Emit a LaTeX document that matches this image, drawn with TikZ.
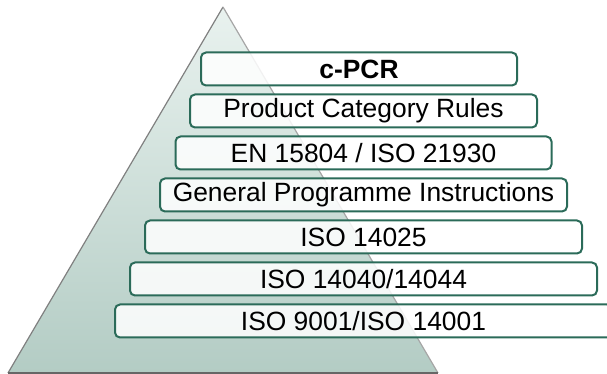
\documentclass[tikz,border=0pt]{standalone}
\usepackage{fontspec}
\setmainfont{Liberation Sans}
\usetikzlibrary{positioning}
\definecolor{boxgreen}{HTML}{2B6B59}
\definecolor{pyrtop}{HTML}{E9F2EF}
\definecolor{pyrbottom}{HTML}{B3CCC4}
\begin{document}
\begin{tikzpicture}[x=0.5pt,y=-0.5pt,
		layer/.style={draw=boxgreen,line width=1pt,rounded corners=2.5pt,
			fill=white,fill opacity=0.85,text opacity=1,
			minimum height=16.5pt,inner sep=0pt,
			font=\fontsize{13.2}{15}\selectfont},
		node distance=3.5pt,]
\useasboundingbox (0,0) rectangle (607,374);

% pyramid behind the layers
\coordinate (apex) at (223,7);
\coordinate (baseL) at (8,373);
\coordinate (baseR) at (438,373);
\shade[top color=pyrtop,bottom color=pyrbottom] (apex) -- (baseR) -- (baseL) -- cycle;
\draw[gray,line width=0.6pt] (baseL) -- (apex);
\draw[gray!70,line width=0.6pt] (apex) -- (baseR);
\draw[gray!80!black,line width=1pt] (baseL) -- (baseR);

% layers, top to bottom
\node[layer,minimum width=158pt] (cpcr) at (359,69) {\bfseries c-PCR};
\node[layer,minimum width=173.5pt,below=of cpcr,xshift=2.25pt] (pcr) {Product Category Rules};
\node[layer,minimum width=188pt,below=of pcr] (en) {EN 15804 / ISO 21930};
\node[layer,minimum width=203.5pt,below=of en] (gpi) {General Programme Instructions};
\node[layer,minimum width=218.5pt,below=of gpi] (iso25) {ISO 14025};
\node[layer,minimum width=233.5pt,below=of iso25] (iso40) {ISO 14040/14044};
\node[layer,minimum width=248.5pt,below=of iso40] (iso01) {ISO 9001/ISO 14001};
\end{tikzpicture}
\end{document}
